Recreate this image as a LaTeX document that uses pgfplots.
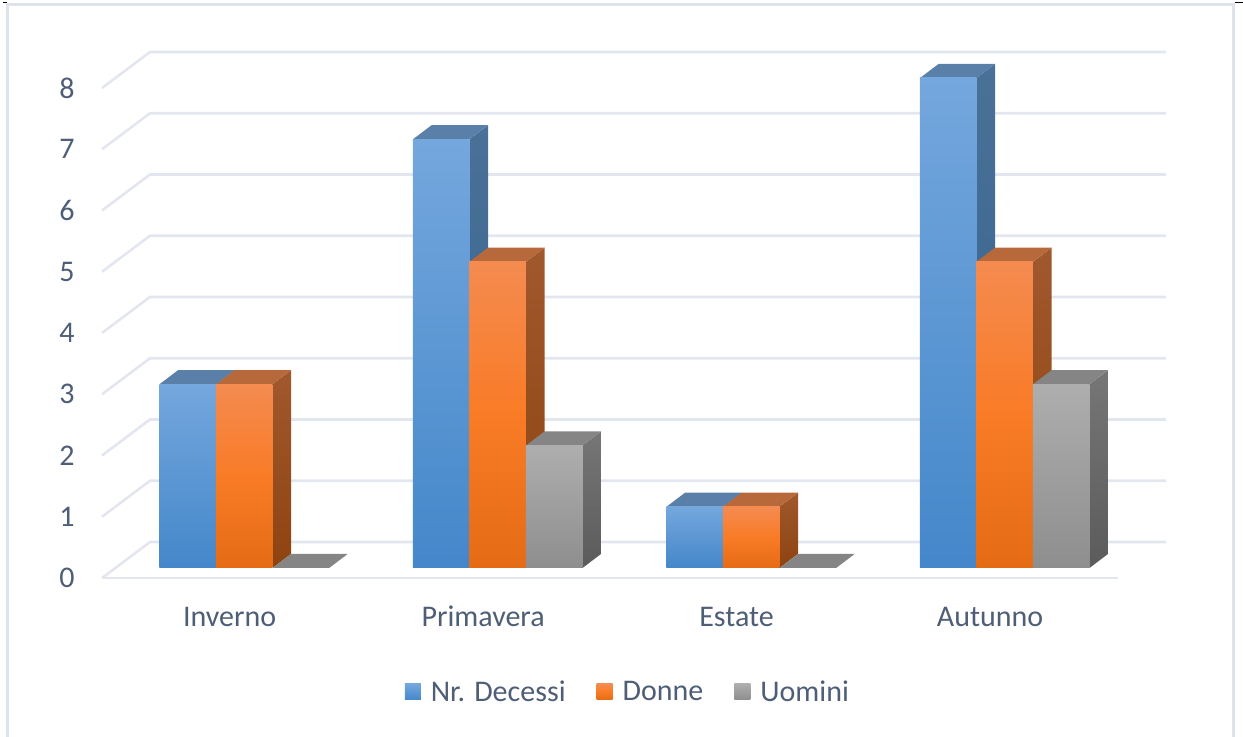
\documentclass[border=0pt]{standalone}
\usepackage{pgfplots}
\pgfplotsset{compat=1.18}
\usepackage{fontspec}
\setmainfont{Carlito}
\definecolor{txt}{HTML}{4E5E76}
\definecolor{gridc}{HTML}{E3E6EE}
\definecolor{framec}{HTML}{DEE3EC}
\definecolor{blueTop}{HTML}{5A7FA9}
\definecolor{blueSa}{HTML}{4A7197}
\definecolor{blueSb}{HTML}{33618F}
\definecolor{blueFa}{HTML}{74A7DD}
\definecolor{blueFb}{HTML}{4487CA}
\definecolor{orTop}{HTML}{B8693C}
\definecolor{orSa}{HTML}{A0582D}
\definecolor{orSb}{HTML}{8E4410}
\definecolor{orFa}{HTML}{F48B50}
\definecolor{orFm}{HTML}{F97B26}
\definecolor{orFb}{HTML}{E56B15}
\definecolor{grTop}{HTML}{858585}
\definecolor{grSa}{HTML}{767676}
\definecolor{grSb}{HTML}{5B5B5B}
\definecolor{grFa}{HTML}{AEAEAE}
\definecolor{grFb}{HTML}{8E8E8E}
\pgfplotsset{
  front/.style={ybar,bar width=0.2229,draw=none},
  fblue/.style={front,bar shift=-0.2229,top color=blueFa,bottom color=blueFb},
  forange/.style={front,bar shift=0,top color=orFa,bottom color=orFb,middle color=orFm},
  fgray/.style={front,bar shift=0.2229,top color=grFa,bottom color=grFb},
}
% #1 left edge of the bar, #2 value, #3 top colour, #4 side upper, #5 side lower
\newcommand{\faces}[5]{%
  \addplot[forget plot,draw=none,top color=#4,bottom color=#5] coordinates {(#1+0.2229,0) (#1+0.2959,0.2286) (#1+0.2959,#2+0.2286) (#1+0.2229,#2)} --cycle;
  \addplot[forget plot,draw=none,fill=#3] coordinates {(#1,#2) (#1+0.2229,#2) (#1+0.2959,#2+0.2286) (#1+0.073,#2+0.2286)} --cycle;
}
\newcommand{\gridl}[1]{%
  \addplot[forget plot,gridc,line width=1.9pt] coordinates {(-0.5611,#1-0.1633) (-0.3718,#1+0.4245) (3.6361,#1+0.4245)};
}
\begin{document}
\begin{tikzpicture}
\useasboundingbox (0,0) rectangle (932.25pt,552.75pt);
\begin{axis}[
  at={(0,0)},anchor=south west,
  scale only axis,width=932.25pt,height=552.75pt,
  xmin=-0.9635,xmax=3.9399,ymin=-2.7592,ymax=9.2735,
  clip=false,
  axis line style={draw=none},
  major tick length=0pt,
  xtick={0,1,2,3},
  xticklabels={Inverno,Primavera,Estate,Autunno},
  ytick={0,1,2,3,4,5,6,7,8},
  xtick pos=bottom,ytick pos=left,
  /pgf/number format/assume math mode=true,
  tick label style={font=\fontsize{22.5pt}{24pt}\selectfont,text=txt},
  xticklabel style={anchor=center,xshift=-11pt,yshift=85pt,text height=0.64em,text depth=0.2em},
  yticklabel style={anchor=center,xshift=50.25pt,yshift=-7.5pt},
  legend style={at={(axis cs:1.5095,-2.0245)},anchor=center,draw=none,fill=none,
    legend columns=3,font=\fontsize{22.5pt}{24pt}\selectfont,text=txt,
    /tikz/every odd column/.style={column sep=7.5pt},
    /tikz/every even column/.style={column sep=23.25pt},
    nodes={inner sep=0pt,outer sep=0pt}},
  legend image code/.code={\path[#1,draw=none] (0pt,-6pt) rectangle (12pt,6pt);},
]
\gridl{0}\gridl{1}\gridl{2}\gridl{3}\gridl{4}\gridl{5}\gridl{6}\gridl{7}\gridl{8}
\addplot[forget plot,gridc,line width=1.9pt] coordinates {(-0.5611,-0.1633) (3.4467,-0.1633)};

% Nr. Decessi
\faces{-0.3343}{3}{blueTop}{blueSa}{blueSb}
\faces{0.6657}{7}{blueTop}{blueSa}{blueSb}
\faces{1.6657}{1}{blueTop}{blueSa}{blueSb}
\faces{2.6657}{8}{blueTop}{blueSa}{blueSb}
\addplot[fblue] coordinates {(0,3)};
\addlegendentry{Nr. Decessi}
\addplot[fblue,forget plot] coordinates {(1,7)};
\addplot[fblue,forget plot] coordinates {(2,1)};
\addplot[fblue,forget plot] coordinates {(3,8)};

% Donne
\faces{-0.1114}{3}{orTop}{orSa}{orSb}
\faces{0.8886}{5}{orTop}{orSa}{orSb}
\faces{1.8886}{1}{orTop}{orSa}{orSb}
\faces{2.8886}{5}{orTop}{orSa}{orSb}
\addplot[forange] coordinates {(0,3)};
\addlegendentry{Donne}
\addplot[forange,forget plot] coordinates {(1,5)};
\addplot[forange,forget plot] coordinates {(2,1)};
\addplot[forange,forget plot] coordinates {(3,5)};

% Uomini
\faces{0.1114}{0}{grTop}{grSa}{grSb}
\faces{1.1114}{2}{grTop}{grSa}{grSb}
\faces{2.1114}{0}{grTop}{grSa}{grSb}
\faces{3.1114}{3}{grTop}{grSa}{grSb}
\addplot[fgray] coordinates {(0,0)};
\addlegendentry{Uomini}
\addplot[fgray,forget plot] coordinates {(1,2)};
\addplot[fgray,forget plot] coordinates {(2,0)};
\addplot[fgray,forget plot] coordinates {(3,3)};
\end{axis}
% frame of the picture
\draw[framec,line width=2.2pt] (5.6pt,0pt) -- (5.6pt,549.4pt) -- (924.8pt,549.4pt) -- (924.8pt,0pt);
\draw[black,line width=0.6pt] (2.5pt,550.6pt) -- (5.6pt,550.6pt);
\draw[black,line width=0.6pt] (926pt,550.6pt) -- (932.25pt,550.6pt);
\end{tikzpicture}
\end{document}
